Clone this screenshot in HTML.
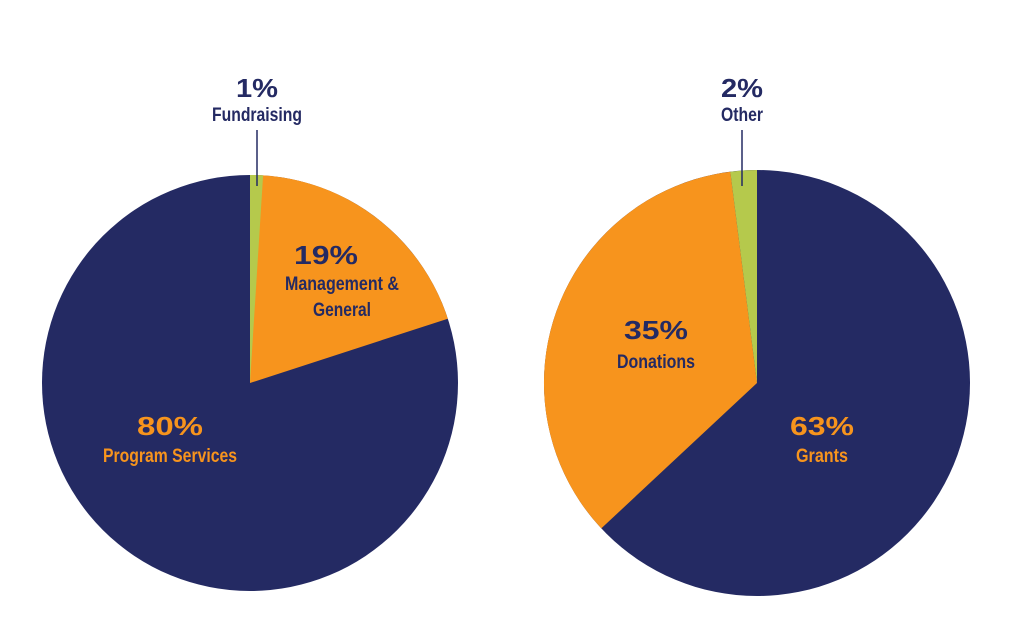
<!DOCTYPE html>
<html><head><meta charset="utf-8"><style>
html,body{margin:0;padding:0;background:#fff;}
svg{display:block;}
.p{font-family:"Liberation Sans","DejaVu Sans",sans-serif;font-weight:900;font-size:26px;}
.l{font-family:"Liberation Sans","DejaVu Sans",sans-serif;font-weight:bold;font-size:19px;}
</style></head><body>
<svg width="1024" height="638" viewBox="0 0 1024 638" xmlns="http://www.w3.org/2000/svg">
<circle cx="250" cy="383" r="208" fill="#242a63"/>
<path d="M250 383 L250 175 A208 208 0 0 1 447.8 318.7 Z" fill="#f7941d"/>
<path d="M250 383 L250 175 A208 208 0 0 1 263.1 175.4 Z" fill="#b5c94c"/>
<line x1="257" y1="130" x2="257" y2="186" stroke="#242a63" stroke-width="1.5"/>
<circle cx="757" cy="383" r="213" fill="#242a63"/>
<path d="M757 383 L601.3 528.4 A213 213 0 0 1 730.3 171.7 Z" fill="#f7941d"/>
<path d="M757 383 L730.3 171.7 A213 213 0 0 1 757 170 Z" fill="#b5c94c"/>
<line x1="742" y1="130" x2="742" y2="186" stroke="#242a63" stroke-width="1.5"/>
<g text-anchor="middle">
<text class="p" x="257" y="97" fill="#242a63" textLength="42" lengthAdjust="spacingAndGlyphs">1%</text>
<text class="l" x="257" y="121" fill="#242a63" textLength="90" lengthAdjust="spacingAndGlyphs">Fundraising</text>
<text class="p" x="326" y="264" fill="#242a63" textLength="64" lengthAdjust="spacingAndGlyphs">19%</text>
<text class="l" x="342" y="290" fill="#242a63" textLength="114" lengthAdjust="spacingAndGlyphs">Management &amp;</text>
<text class="l" x="342" y="316" fill="#242a63" textLength="58" lengthAdjust="spacingAndGlyphs">General</text>
<text class="p" x="170" y="435" fill="#f7941d" textLength="66" lengthAdjust="spacingAndGlyphs">80%</text>
<text class="l" x="170" y="462" fill="#f7941d" textLength="134" lengthAdjust="spacingAndGlyphs">Program Services</text>
<text class="p" x="742" y="97" fill="#242a63" textLength="42" lengthAdjust="spacingAndGlyphs">2%</text>
<text class="l" x="742" y="121" fill="#242a63" textLength="42" lengthAdjust="spacingAndGlyphs">Other</text>
<text class="p" x="656" y="339" fill="#242a63" textLength="64" lengthAdjust="spacingAndGlyphs">35%</text>
<text class="l" x="656" y="368" fill="#242a63" textLength="78" lengthAdjust="spacingAndGlyphs">Donations</text>
<text class="p" x="822" y="435" fill="#f7941d" textLength="64" lengthAdjust="spacingAndGlyphs">63%</text>
<text class="l" x="822" y="462" fill="#f7941d" textLength="52" lengthAdjust="spacingAndGlyphs">Grants</text>
</g>
</svg>
</body></html>
